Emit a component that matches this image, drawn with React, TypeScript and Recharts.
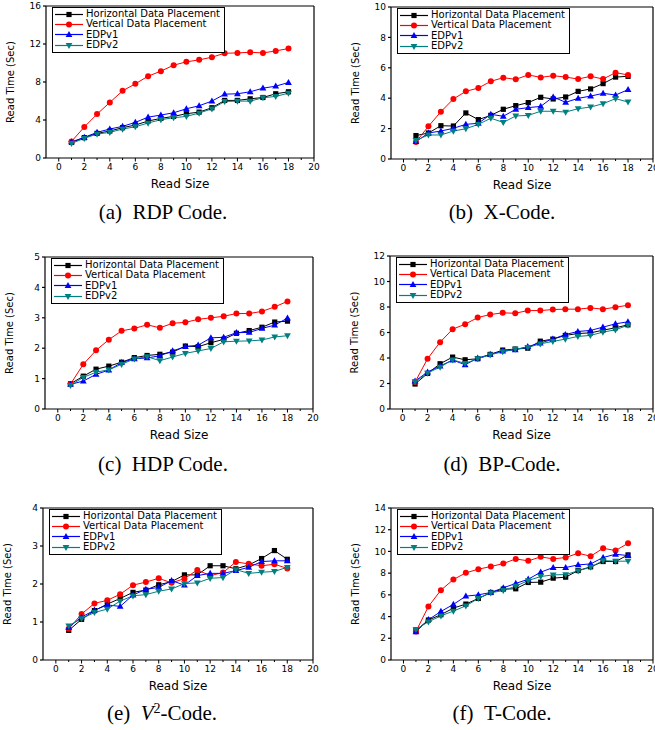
import { LineChart, Line, XAxis, YAxis, Legend, ReferenceLine } from "recharts";

const readSize = [1, 2, 3, 4, 5, 6, 7, 8, 9, 10, 11, 12, 13, 14, 15, 16, 17, 18];
const xTicks = [0, 1, 2, 3, 4, 5, 6, 7, 8, 9, 10, 11, 12, 13, 14, 15, 16, 17, 18, 19, 20];

// (a) RDP Code
const rdpH = [1.65, 2.14, 2.59, 2.84, 3.19, 3.47, 3.89, 4.17, 4.38, 4.66, 4.83, 5.29, 6.06, 6.06, 6.23, 6.37, 6.76, 6.97];
const rdpV = [1.75, 3.26, 4.62, 5.85, 7.07, 7.81, 8.61, 9.14, 9.77, 10.12, 10.33, 10.61, 11.03, 11.06, 11.13, 11.06, 11.27, 11.52];
const rdpE1 = [1.7, 2.17, 2.7, 3.05, 3.33, 3.75, 4.3, 4.52, 4.76, 5.18, 5.5, 5.99, 6.72, 6.76, 6.97, 7.35, 7.56, 7.95];
const rdpE2 = [1.54, 2.07, 2.52, 2.7, 3.05, 3.29, 3.68, 4.03, 4.24, 4.38, 4.73, 5.18, 5.95, 5.99, 5.99, 6.34, 6.48, 6.83];

// (b) X-Code
const xcodeH = [1.54, 1.71, 2.19, 2.17, 3.03, 2.59, 2.87, 3.27, 3.51, 3.71, 4.06, 3.95, 4.08, 4.45, 4.61, 4.96, 5.39, 5.44];
const xcodeV = [1.12, 2.15, 3.11, 3.95, 4.45, 4.67, 5.11, 5.35, 5.24, 5.53, 5.37, 5.48, 5.39, 5.26, 5.44, 5.26, 5.68, 5.53];
const xcodeE1 = [1.14, 1.71, 1.84, 2.02, 2.28, 2.35, 2.94, 2.81, 3.27, 3.38, 3.46, 4.08, 3.73, 3.99, 4.14, 4.32, 4.21, 4.56];
const xcodeE2 = [1.23, 1.58, 1.58, 1.84, 1.99, 2.28, 2.68, 2.41, 2.83, 2.87, 3.14, 3.14, 3.09, 3.31, 3.42, 3.64, 3.97, 3.75];

// (c) HDP Code
const hdpH = [0.83, 1.08, 1.31, 1.41, 1.54, 1.69, 1.76, 1.8, 1.87, 2.07, 2.05, 2.18, 2.29, 2.49, 2.58, 2.69, 2.86, 2.89];
const hdpV = [0.82, 1.47, 1.93, 2.28, 2.57, 2.65, 2.77, 2.67, 2.82, 2.85, 2.95, 3.0, 3.05, 3.14, 3.14, 3.21, 3.36, 3.54];
const hdpE1 = [0.81, 0.92, 1.14, 1.28, 1.53, 1.65, 1.68, 1.75, 1.91, 2.05, 2.1, 2.34, 2.36, 2.51, 2.52, 2.65, 2.76, 2.99];
const hdpE2 = [0.78, 1.04, 1.21, 1.29, 1.47, 1.65, 1.72, 1.59, 1.71, 1.83, 1.91, 1.99, 2.21, 2.23, 2.24, 2.27, 2.37, 2.41];

// (d) BP-Code
const bpH = [1.96, 2.79, 3.55, 4.07, 3.86, 3.94, 4.28, 4.62, 4.7, 4.77, 5.32, 5.48, 5.77, 5.92, 5.97, 6.18, 6.37, 6.6];
const bpV = [2.11, 3.94, 5.24, 6.26, 6.65, 7.17, 7.41, 7.54, 7.51, 7.72, 7.72, 7.8, 7.83, 7.83, 7.93, 7.83, 7.98, 8.14];
const bpE1 = [2.19, 2.9, 3.37, 3.84, 3.47, 3.99, 4.28, 4.54, 4.64, 4.9, 5.17, 5.48, 5.84, 6.08, 6.16, 6.42, 6.68, 6.84];
const bpE2 = [2.14, 2.82, 3.29, 3.86, 3.57, 3.94, 4.25, 4.49, 4.7, 4.83, 5.11, 5.3, 5.48, 5.69, 5.77, 6.03, 6.21, 6.57];

// (e) V2-Code
const v2H = [0.78, 1.07, 1.3, 1.47, 1.62, 1.78, 1.84, 1.98, 2.06, 2.24, 2.24, 2.48, 2.48, 2.4, 2.5, 2.67, 2.88, 2.65];
const v2V = [0.82, 1.21, 1.49, 1.57, 1.73, 1.97, 2.05, 2.15, 2.03, 2.14, 2.37, 2.22, 2.3, 2.58, 2.53, 2.48, 2.52, 2.41];
const v2E1 = [0.86, 1.13, 1.31, 1.45, 1.41, 1.71, 1.86, 1.91, 2.09, 1.97, 2.22, 2.28, 2.28, 2.35, 2.44, 2.59, 2.61, 2.61];
const v2E2 = [0.9, 1.09, 1.25, 1.34, 1.55, 1.69, 1.72, 1.81, 1.87, 2.01, 2.03, 2.15, 2.17, 2.38, 2.28, 2.31, 2.33, 2.44];

// (f) T-Code
const tcodeH = [2.73, 3.68, 4.17, 4.78, 5.15, 5.67, 6.22, 6.53, 6.56, 7.14, 7.17, 7.54, 7.63, 8.24, 8.58, 9.07, 9.07, 9.68];
const tcodeV = [2.63, 4.93, 6.43, 7.41, 8.03, 8.36, 8.61, 8.88, 9.31, 9.13, 9.5, 9.31, 9.44, 9.83, 9.56, 10.29, 10.08, 10.75];
const tcodeE1 = [2.6, 3.71, 4.47, 5.12, 5.88, 6.0, 6.22, 6.65, 7.05, 7.44, 8.09, 8.52, 8.52, 8.76, 8.85, 9.44, 9.74, 9.62];
const tcodeE2 = [2.82, 3.52, 4.07, 4.5, 4.99, 5.67, 6.19, 6.4, 6.8, 7.32, 7.69, 7.84, 7.87, 8.21, 8.55, 9.16, 9.1, 9.1];

const seriesDefs = [
  { key: "h", name: "Horizontal Data Placement", color: "#000000", shape: "square" },
  { key: "v", name: "Vertical Data Placement", color: "#ff0000", shape: "circle" },
  { key: "e1", name: "EDPv1", color: "#0000ff", shape: "up" },
  { key: "e2", name: "EDPv2", color: "#008080", shape: "down" },
];

const panels = [
  { id: "a", h: rdpH, v: rdpV, e1: rdpE1, e2: rdpE2, yMax: 16, yTicks: [0, 4, 8, 12, 16], left: 46, top: 6, w: 268, hgt: 152, mr: 12 },
  { id: "b", h: xcodeH, v: xcodeV, e1: xcodeE1, e2: xcodeE2, yMax: 10, yTicks: [0, 2, 4, 6, 8, 10], left: 391, top: 7, w: 262, hgt: 152, mr: 4 },
  { id: "c", h: hdpH, v: hdpV, e1: hdpE1, e2: hdpE2, yMax: 5, yTicks: [0, 1, 2, 3, 4, 5], left: 45, top: 257, w: 268, hgt: 152, mr: 12 },
  { id: "d", h: bpH, v: bpV, e1: bpE1, e2: bpE2, yMax: 12, yTicks: [0, 2, 4, 6, 8, 10, 12], left: 390, top: 256, w: 263, hgt: 153, mr: 4 },
  { id: "e", h: v2H, v: v2V, e1: v2E1, e2: v2E2, yMax: 4, yTicks: [0, 1, 2, 3, 4], left: 43, top: 508, w: 270, hgt: 152, mr: 12 },
  { id: "f", h: tcodeH, v: tcodeV, e1: tcodeE1, e2: tcodeE2, yMax: 14, yTicks: [0, 2, 4, 6, 8, 10, 12, 14], left: 391, top: 508, w: 262, hgt: 152, mr: 4 },
];

const FONT = "'DejaVu Sans', Arial, sans-serif";
const ML = 46;
const MT = 6;
const XH = 34;

function Marker({ cx, cy, shape, color }: { cx: number; cy: number; shape: string; color: string }) {
  if (cx == null || cy == null) return null;
  if (shape === "square") return <rect x={cx - 2.6} y={cy - 2.6} width={5.2} height={5.2} fill={color} />;
  if (shape === "circle") return <circle cx={cx} cy={cy} r={3} fill={color} />;
  if (shape === "up")
    return <polygon points={`${cx},${cy - 3.6} ${cx - 3.4},${cy + 2.4} ${cx + 3.4},${cy + 2.4}`} fill={color} />;
  return <polygon points={`${cx},${cy + 3.6} ${cx - 3.4},${cy - 2.4} ${cx + 3.4},${cy - 2.4}`} fill={color} />;
}

// bottom axis tick: labelled major ticks on even values, short minor ticks on odd ones
function XTick({ x, y, payload }: any) {
  const v = payload.value;
  const major = v % 2 === 0;
  return (
    <g>
      <line x1={x} x2={x} y1={y} y2={y + (major ? 3.5 : 2)} stroke="#000" strokeWidth={1} />
      {major && (
        <text x={x} y={y + 5} dy="0.75em" textAnchor="middle" fill="#000" fontSize={9} fontFamily={FONT}>
          {v}
        </text>
      )}
    </g>
  );
}

function LegendBox() {
  return (
    <div
      style={{
        border: "1px solid #000",
        background: "#fff",
        padding: "1px 4px 1px 2px",
        fontFamily: FONT,
        fontSize: 10,
        lineHeight: "10.4px",
        whiteSpace: "nowrap",
      }}
    >
      {seriesDefs.map((s) => (
        <div key={s.key} style={{ display: "flex", alignItems: "center", height: 10.4 }}>
          <svg width={28} height={9} style={{ marginRight: 3 }}>
            <line x1={0} x2={28} y1={4.5} y2={4.5} stroke={s.color} strokeWidth={1.2} />
            <Marker cx={14} cy={4.5} shape={s.shape} color={s.color} />
          </svg>
          <span>{s.name}</span>
        </div>
      ))}
    </div>
  );
}

function Panel({ cfg }: { cfg: (typeof panels)[number] }) {
  const data = readSize.map((x, i) => ({ x, h: cfg.h[i], v: cfg.v[i], e1: cfg.e1[i], e2: cfg.e2[i] }));
  const width = cfg.w + ML + cfg.mr;
  const height = cfg.hgt + MT + XH;
  return (
    <div style={{ position: "absolute", left: cfg.left - ML, top: cfg.top - MT }}>
      <LineChart width={width} height={height} data={data} margin={{ top: MT, right: cfg.mr, left: 10, bottom: 0 }}>
        <XAxis
          dataKey="x"
          type="number"
          domain={[-1, 20]}
          ticks={xTicks}
          interval={0}
          height={XH}
          tick={<XTick />}
          tickLine={false}
          tickSize={0}
          tickMargin={0}
          stroke="#000"
          strokeWidth={1.2}
          label={{ value: "Read Size", position: "insideBottom", offset: 4, style: { fontSize: 12, fontFamily: FONT, fill: "#000" } }}
        />
        <YAxis
          type="number"
          domain={[0, cfg.yMax]}
          ticks={cfg.yTicks}
          interval={0}
          width={36}
          tick={{ fill: "#000", fontSize: 9, fontFamily: FONT }}
          tickSize={3}
          tickMargin={2}
          stroke="#000"
          strokeWidth={1.2}
          label={{
            value: "Read Time (Sec)",
            angle: -90,
            position: "insideLeft",
            offset: 0,
            style: { textAnchor: "middle", fontSize: 10, fontFamily: FONT, fill: "#000" },
          }}
        />
        {/* top and right edges of the plot frame */}
        <ReferenceLine y={cfg.yMax} stroke="#000" strokeWidth={1.2} ifOverflow="visible" />
        <ReferenceLine x={20} stroke="#000" strokeWidth={1.2} ifOverflow="visible" />
        {seriesDefs.map((s) => (
          <Line
            key={s.key}
            dataKey={s.key}
            name={s.name}
            type="linear"
            stroke={s.color}
            strokeWidth={1}
            isAnimationActive={false}
            dot={(p: any) => (
              <Marker key={`${s.key}-${p.index}`} cx={p.cx} cy={p.cy} shape={s.shape} color={s.color} />
            )}
            activeDot={false}
          />
        ))}
        <Legend
          layout="vertical"
          align="center"
          verticalAlign="middle"
          content={() => <LegendBox />}
          wrapperStyle={{ left: ML + 6, top: MT + 1, width: "auto", height: "auto" }}
        />
      </LineChart>
    </div>
  );
}

const captions = [
  { id: "a", x: 163, y: 212, text: <>(a)&ensp;RDP Code.</> },
  { id: "b", x: 502, y: 212, text: <>(b)&ensp;X-Code.</> },
  { id: "c", x: 163, y: 464, text: <>(c)&ensp;HDP Code.</> },
  { id: "d", x: 502, y: 464, text: <>(d)&ensp;BP-Code.</> },
  {
    id: "e",
    x: 162,
    y: 713,
    text: (
      <>
        (e)&ensp;<i>V</i>
        <span style={{ fontSize: 14, position: "relative", top: -7 }}>2</span>-Code.
      </>
    ),
  },
  { id: "f", x: 502, y: 713, text: <>(f)&ensp;T-Code.</> },
];

export default function App() {
  return (
    <div style={{ position: "absolute", left: 0, top: 0, width: 655, height: 730, overflow: "hidden", background: "#fff" }}>
      {panels.map((p) => (
        <Panel key={p.id} cfg={p} />
      ))}
      {captions.map((c) => (
        <div
          key={c.id}
          style={{
            position: "absolute",
            left: c.x - 150,
            top: c.y - 13,
            width: 300,
            textAlign: "center",
            fontFamily: "'Liberation Serif', 'DejaVu Serif', serif",
            fontSize: 21,
            lineHeight: "26px",
            color: "#000",
          }}
        >
          {c.text}
        </div>
      ))}
    </div>
  );
}
